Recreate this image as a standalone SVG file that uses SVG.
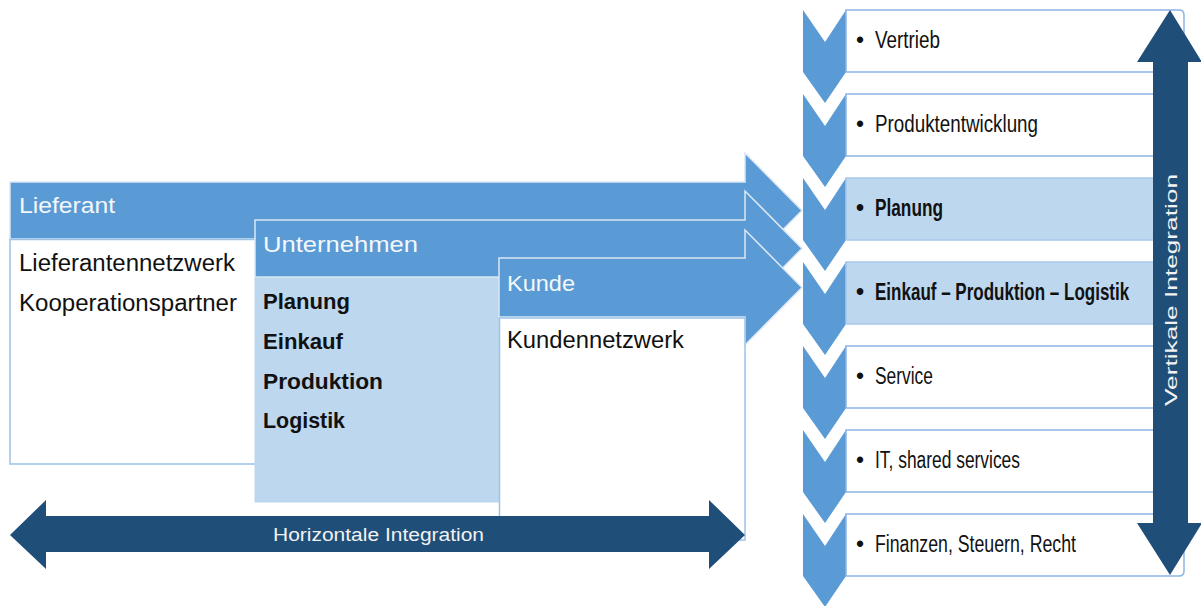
<svg xmlns="http://www.w3.org/2000/svg" width="1201" height="606" viewBox="0 0 1201 606">
<style>
.hdr{fill:#5b9bd5;stroke:#dce8f5;stroke-width:1.5}
.body{fill:#ffffff;stroke:#9dc3e6;stroke-width:1.5}
.lbody{fill:#bdd7ee;stroke:#bdd7ee;stroke-width:1}
.ht{font-family:"Liberation Sans",Arial,sans-serif;font-size:22px;fill:#f4f8fc}
.bt{font-family:"Liberation Sans",Arial,sans-serif;font-size:23px;fill:#111111}
.bb{font-family:"Liberation Sans",Arial,sans-serif;font-size:22px;font-weight:bold;fill:#111111}
.chev{fill:#5b9bd5}
.rbox{fill:#ffffff;stroke:#8eb4e3;stroke-width:1.5}
.rboxl{fill:#bdd7ee;stroke:#a9c8ea;stroke-width:1.5}
.rt{font-family:"Liberation Sans",Arial,sans-serif;font-size:23px;fill:#111111}
.rtb{font-family:"Liberation Sans",Arial,sans-serif;font-size:23px;font-weight:bold;fill:#111111}
.dark{fill:#1f4e79}
.wt{font-family:"Liberation Sans",Arial,sans-serif;fill:#f2f2f2}
</style>

<!-- Lieferant -->
<g id="lieferant">
  <path class="hdr" d="M10,182 H745 V153 L802,210.5 L745,268 V239 H10 Z"/>
  <rect class="body" x="10" y="239.5" width="250" height="224.5"/>
  <text class="ht" x="19" y="213" textLength="96" lengthAdjust="spacingAndGlyphs">Lieferant</text>
  <text class="bt" x="19" y="271" textLength="216" lengthAdjust="spacingAndGlyphs">Lieferantennetzwerk</text>
  <text class="bt" x="19" y="311" textLength="218" lengthAdjust="spacingAndGlyphs">Kooperationspartner</text>
</g>

<!-- Unternehmen -->
<g id="unternehmen">
  <path class="hdr" d="M255,220 H745 V191 L802,248.5 L745,306 V277 H255 Z"/>
  <rect class="lbody" x="255" y="278" width="244" height="224"/>
  <text class="ht" x="263" y="252" textLength="155" lengthAdjust="spacingAndGlyphs">Unternehmen</text>
  <text class="bb" x="263" y="309" textLength="87" lengthAdjust="spacingAndGlyphs">Planung</text>
  <text class="bb" x="263" y="349" textLength="80" lengthAdjust="spacingAndGlyphs">Einkauf</text>
  <text class="bb" x="263" y="389" textLength="120" lengthAdjust="spacingAndGlyphs">Produktion</text>
  <text class="bb" x="263" y="428" textLength="82" lengthAdjust="spacingAndGlyphs">Logistik</text>
</g>

<!-- Kunde -->
<g id="kunde">
  <path class="hdr" d="M499,258 H745 V230 L802,287.5 L745,345 V317 H499 Z"/>
  <rect class="body" x="499.5" y="318" width="245.5" height="222"/>
  <text class="ht" x="507" y="291" textLength="68" lengthAdjust="spacingAndGlyphs">Kunde</text>
  <text class="bt" x="507" y="348" textLength="177" lengthAdjust="spacingAndGlyphs">Kundennetzwerk</text>
</g>

<!-- Horizontal integration arrow -->
<g id="horizontal-integration">
  <path class="dark" d="M10,535 L46,500 V516 H709 V500 L745,535 L709,569 V552 H46 V569 Z"/>
  <text class="wt" x="273" y="541" font-size="18" textLength="211" lengthAdjust="spacingAndGlyphs">Horizontale Integration</text>
</g>

<!-- Right column chevrons -->
<g id="chevrons">
  <path class="chev" d="M803,10 L825,42 L846,10 V72 L825,103 L803,72 Z"/>
  <path class="chev" d="M803,94 L825,126 L846,94 V156 L825,187 L803,156 Z"/>
  <path class="chev" d="M803,178 L825,210 L846,178 V240 L825,271 L803,240 Z"/>
  <path class="chev" d="M803,262 L825,294 L846,262 V324 L825,355 L803,324 Z"/>
  <path class="chev" d="M803,346 L825,378 L846,346 V408 L825,439 L803,408 Z"/>
  <path class="chev" d="M803,430 L825,462 L846,430 V492 L825,523 L803,492 Z"/>
  <path class="chev" d="M803,514 L825,546 L846,514 V576 L825,607 L803,576 Z"/>
</g>

<g id="vertrieb">
  <path class="rbox" d="M846,10 H1179 Q1184,10 1184,15 V67 Q1184,72 1179,72 H846 Z"/>
  <text class="rt" x="856" y="48">•</text>
  <text class="rt" x="875" y="48" textLength="65" lengthAdjust="spacingAndGlyphs">Vertrieb</text>
</g>
<g id="produktentwicklung">
  <path class="rbox" d="M846,94 H1179 Q1184,94 1184,99 V151 Q1184,156 1179,156 H846 Z"/>
  <text class="rt" x="856" y="132">•</text>
  <text class="rt" x="875" y="132" textLength="163" lengthAdjust="spacingAndGlyphs">Produktentwicklung</text>
</g>
<g id="planung">
  <path class="rboxl" d="M846,178 H1179 Q1184,178 1184,183 V235 Q1184,240 1179,240 H846 Z"/>
  <text class="rtb" x="856" y="216">•</text>
  <text class="rtb" x="875" y="216" textLength="68" lengthAdjust="spacingAndGlyphs">Planung</text>
</g>
<g id="einkauf-produktion-logistik">
  <path class="rboxl" d="M846,262 H1179 Q1184,262 1184,267 V319 Q1184,324 1179,324 H846 Z"/>
  <text class="rtb" x="856" y="300">•</text>
  <text class="rtb" x="0" y="0" transform="translate(875,300) scale(0.74,1)">Einkauf – Produktion – Logistik</text>
</g>
<g id="service">
  <path class="rbox" d="M846,346 H1179 Q1184,346 1184,351 V403 Q1184,408 1179,408 H846 Z"/>
  <text class="rt" x="856" y="384">•</text>
  <text class="rt" x="875" y="384" textLength="58" lengthAdjust="spacingAndGlyphs">Service</text>
</g>
<g id="it-shared-services">
  <path class="rbox" d="M846,430 H1179 Q1184,430 1184,435 V487 Q1184,492 1179,492 H846 Z"/>
  <text class="rt" x="856" y="468">•</text>
  <text class="rt" x="875" y="468" textLength="145" lengthAdjust="spacingAndGlyphs">IT, shared services</text>
</g>
<g id="finanzen">
  <path class="rbox" d="M846,514 H1179 Q1184,514 1184,519 V571 Q1184,576 1179,576 H846 Z"/>
  <text class="rt" x="856" y="552">•</text>
  <text class="rt" x="875" y="552" textLength="201" lengthAdjust="spacingAndGlyphs">Finanzen, Steuern, Recht</text>
</g>

<!-- Vertical integration arrow -->
<g id="vertical-integration">
  <path class="dark" d="M1170,10 L1202,62 H1188 V523 H1202 L1170,575 L1137,523 H1153 V62 H1137 Z"/>
  <text class="wt" font-size="17" text-anchor="middle" x="0" y="0" transform="translate(1177,290) rotate(-90)" textLength="232" lengthAdjust="spacingAndGlyphs">Vertikale Integration</text>
</g>
</svg>
